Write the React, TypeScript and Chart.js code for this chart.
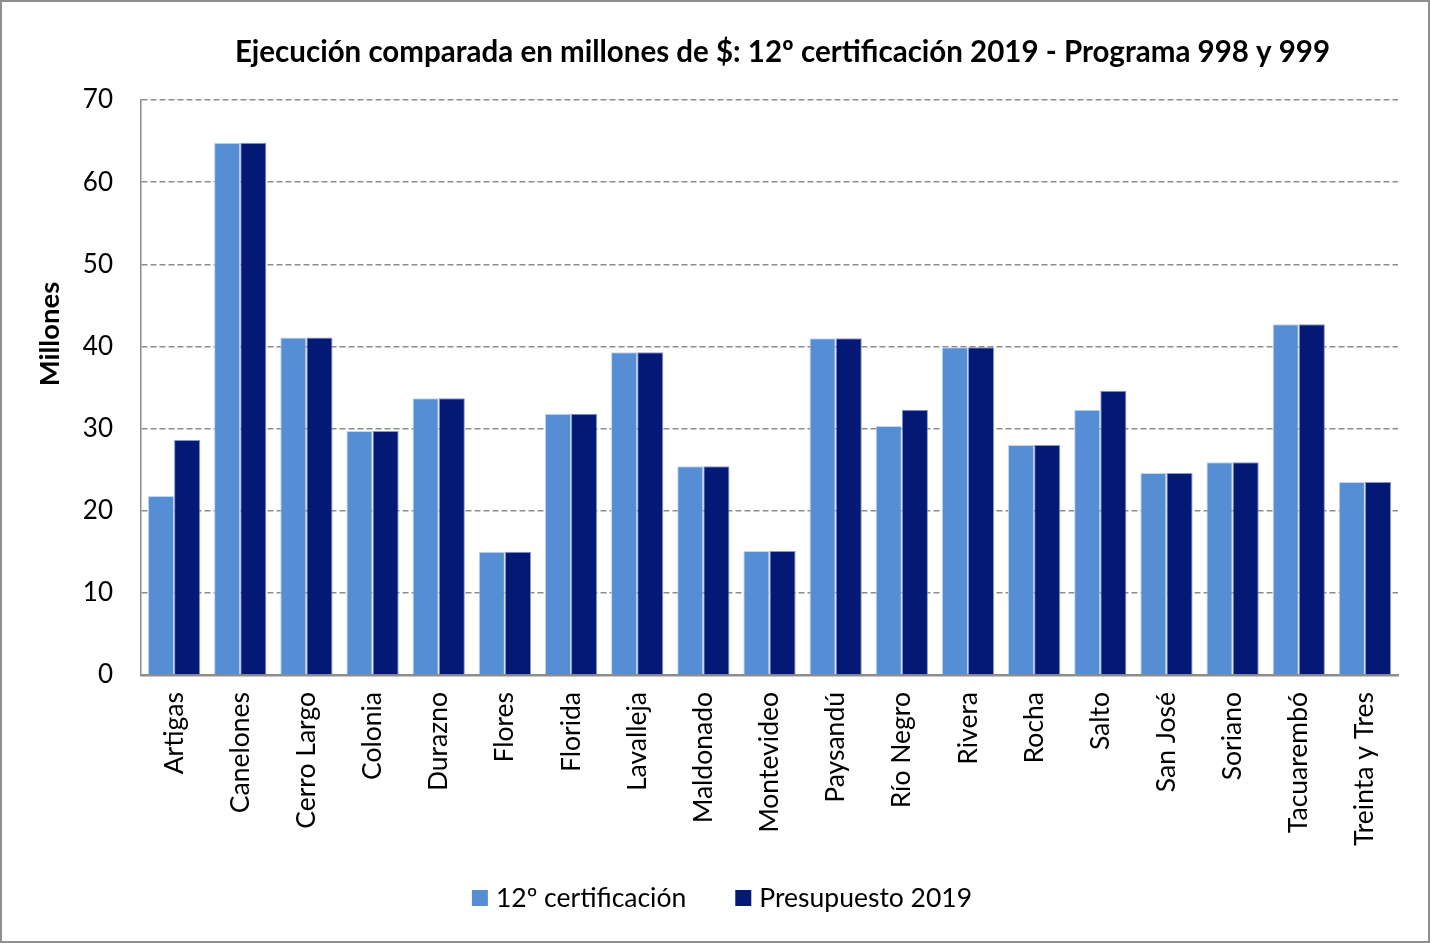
import React, { useEffect, useRef } from 'react';
import { Chart, registerables } from 'chart.js';

Chart.register(...registerables);

const categories = [
  'Artigas', 'Canelones', 'Cerro Largo', 'Colonia', 'Durazno', 'Flores', 'Florida',
  'Lavalleja', 'Maldonado', 'Montevideo', 'Paysandú', 'Río Negro', 'Rivera', 'Rocha',
  'Salto', 'San José', 'Soriano', 'Tacuarembó', 'Treinta y Tres',
];
const certificacion = [21.8, 64.8, 41.1, 29.7, 33.7, 15.0, 31.8, 39.3, 25.4, 15.1, 41.0, 30.3, 39.9, 28.0, 32.3, 24.6, 25.9, 42.7, 23.5];
const presupuesto = [28.6, 64.8, 41.1, 29.7, 33.7, 15.0, 31.8, 39.3, 25.4, 15.1, 41.0, 32.3, 39.9, 28.0, 34.6, 24.6, 25.9, 42.7, 23.5];
const seriesLabels = ['12º certificación', 'Presupuesto 2019'];
const seriesColors = ['#558ed5', '#041976'];
const yMin = 0;
const yMax = 70;
const yStep = 10;
const titleText = 'Ejecución comparada en millones de $: 12º certificación 2019 - Programa 998 y 999';
const yAxisTitle = 'Millones';

const FONT = 'Lato, "Noto Sans", sans-serif';

const decorPlugin = {
  id: 'decor',
  afterDraw(chart: any) {
    const ctx = chart.ctx;
    const area = chart.chartArea;
    ctx.save();
    // outer frame
    ctx.strokeStyle = '#8f8f8f';
    ctx.lineWidth = 2;
    ctx.strokeRect(1, 1, chart.width - 2, chart.height - 2);
    // title
    ctx.fillStyle = '#000';
    ctx.font = `bold 29.5px ${FONT}`;
    ctx.textAlign = 'center';
    ctx.textBaseline = 'middle';
    ctx.fillText(titleText, (area.left + area.right) / 2 + 13, 52);
    // y axis title
    ctx.save();
    ctx.translate(50, 334);
    ctx.rotate(-Math.PI / 2);
    ctx.font = `bold 27.5px ${FONT}`;
    ctx.fillText(yAxisTitle, 0, 0);
    ctx.restore();
    // legend
    ctx.font = `26.5px ${FONT}`;
    ctx.textAlign = 'left';
    const box = 16;
    const gapBox = 8;
    const gapItem = 49;
    const widths = seriesLabels.map((l) => ctx.measureText(l).width);
    const total = widths.reduce((a, w) => a + box + gapBox + w, 0) + gapItem * (seriesLabels.length - 1);
    let x = 722 - total / 2;
    const y = 898;
    seriesLabels.forEach((l, i) => {
      ctx.fillStyle = seriesColors[i];
      ctx.fillRect(x, y - box / 2, box, box);
      x += box + gapBox;
      ctx.fillStyle = '#000';
      ctx.fillText(l, x, y);
      x += widths[i] + gapItem;
    });
    ctx.restore();
  },
};

export default function App() {
  const ref = useRef<HTMLCanvasElement | null>(null);
  useEffect(() => {
    if (!ref.current) return;
    const chart = new Chart(ref.current, {
      type: 'bar',
      data: {
        labels: categories,
        datasets: [
          {
            label: seriesLabels[0],
            data: certificacion,
            backgroundColor: seriesColors[0],
            borderColor: 'rgba(190,210,240,0.9)',
            borderWidth: 1,
            categoryPercentage: 0.79,
            barPercentage: 1,
          },
          {
            label: seriesLabels[1],
            data: presupuesto,
            backgroundColor: seriesColors[1],
            borderColor: 'rgba(120,140,200,0.9)',
            borderWidth: 1,
            categoryPercentage: 0.79,
            barPercentage: 1,
          },
        ],
      },
      options: {
        responsive: false,
        animation: false,
        layout: { padding: { top: 100, right: 32, left: 0, bottom: 0 } },
        plugins: {
          legend: { display: false },
          title: { display: false },
          tooltip: { enabled: false },
        },
        scales: {
          x: {
            grid: { display: false, drawTicks: false },
            border: { display: true, color: '#8c8c8c', width: 2.5 },
            ticks: {
              autoSkip: false,
              minRotation: 90,
              maxRotation: 90,
              padding: 17,
              color: '#000',
              font: { family: FONT, size: 26.5 },
            },
            afterFit: (scale: any) => {
              scale.height = 943 - 675;
            },
          },
          y: {
            min: yMin,
            max: yMax,
            ticks: {
              stepSize: yStep,
              padding: 28,
              color: '#000',
              font: { family: FONT, size: 26 },
            },
            grid: { color: '#8c8c8c', lineWidth: 1.5, drawTicks: false },
            border: { display: true, color: '#8c8c8c', width: 1.5, dash: [6, 3] },
            afterFit: (scale: any) => {
              scale.width = 141;
            },
          },
        },
      },
      plugins: [decorPlugin],
    });
    return () => chart.destroy();
  }, []);
  return (
    <div style={{ position: 'absolute', left: 0, top: 0, width: 1430, height: 943, background: '#fff' }}>
      <canvas ref={ref} width={1430} height={943} style={{ display: 'block' }} />
    </div>
  );
}
